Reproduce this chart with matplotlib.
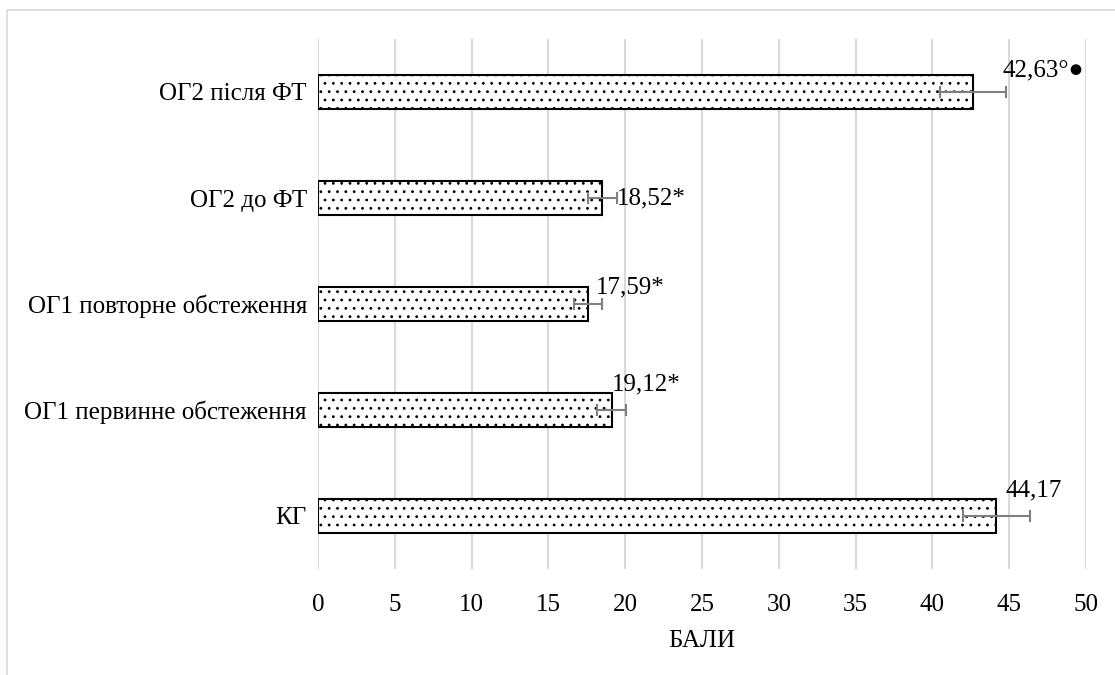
import matplotlib.pyplot as plt
from matplotlib.patches import Rectangle

plt.rcParams['font.family'] = ['Liberation Serif', 'DejaVu Serif']
plt.rcParams['hatch.linewidth'] = 0.8

# data (bottom to top)
groups = ['КГ', 'ОГ1 первинне обстеження', 'ОГ1 повторне обстеження',
          'ОГ2 до ФТ', 'ОГ2 після ФТ']
scores = [44.17, 19.12, 17.59, 18.52, 42.63]
errors = [2.2, 0.95, 0.9, 0.95, 2.15]
labels = ['44,17', '19,12*', '17,59*', '18,52*', '42,63°●']

# label offsets in pixels, relative to the end of the error bar
lab_dx = [-25, -14, -6, 0, -3]
lab_dy = [26, 26, 17, 0, 22]

fig = plt.figure(figsize=(11.15, 6.75), dpi=100)
fig.patches.append(Rectangle((7 / 1115, -0.1), 1.1, 1.1 - 10 / 675, transform=fig.transFigure,
                             fill=False, edgecolor='#d9d9d9', linewidth=1.2))
ax = fig.add_axes([318 / 1115, 1 - 569 / 675, 768 / 1115, 530 / 675])

ypos = list(range(len(groups)))
ax.barh(ypos, scores, height=0.32, color='white', edgecolor='black',
        linewidth=1.5, hatch='..', zorder=3)
ax.errorbar(scores, ypos, xerr=errors, fmt='none', ecolor='#7f7f7f',
            elinewidth=1.5, capsize=4, capthick=1.5, zorder=4)

for i in ypos:
    ax.annotate(labels[i], xy=(scores[i] + errors[i], i), xytext=(lab_dx[i], lab_dy[i]),
                textcoords='offset pixels', ha='left', va='center', fontsize=18)

ax.set_xlim(0, 50)
ax.set_ylim(-0.5, 4.5)
ax.set_xticks(range(0, 51, 5))
ax.set_yticks(ypos)
ax.set_yticklabels(groups)
ax.grid(axis='x', color='#d9d9d9', linewidth=1.5, zorder=0)
ax.tick_params(length=0, labelsize=18)
ax.tick_params(axis='x', pad=18)
ax.tick_params(axis='y', pad=8)
for s in ax.spines.values():
    s.set_visible(False)
ax.set_xlabel('БАЛИ', fontsize=18, labelpad=10)

fig.savefig('out.png', dpi=100)
